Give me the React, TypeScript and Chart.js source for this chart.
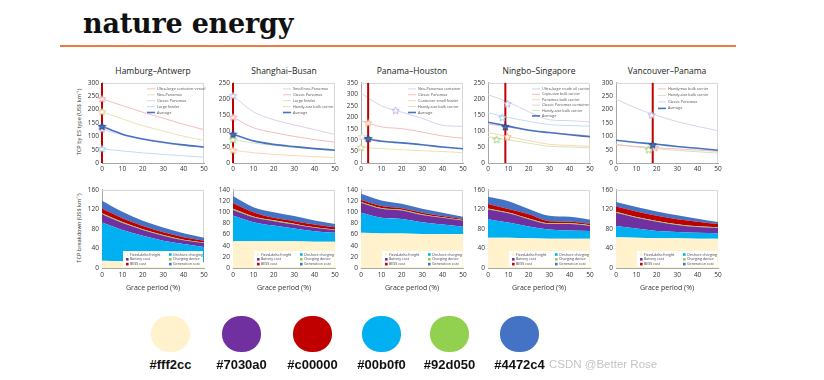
import React, { useEffect, useRef } from "react";
import { Chart, registerables } from "chart.js";

Chart.register(...registerables);

const FONT = "'Open Sans', 'Noto Sans', sans-serif";

// ---------- shared x values (grace period, %) ----------
const GRACE = [0, 10, 20, 30, 40, 50];

// ---------- colours ----------
const C_PINK = "#f4bcbc";
const C_OLIVE = "#e8e3b2";
const C_LAV = "#d9d1ee";
const C_SKY = "#c2dcf3";
const C_LGREEN = "#d3e6bb";
const C_PEACH = "#f9d7b4";
const C_AVG = "#4472c4";
const C_RED = "#c00000";

const S_PINK = "#e99c9c";
const S_OLIVE = "#cfc784";
const S_LAV = "#b7acdc";
const S_SKY = "#93c1ea";
const S_LGREEN = "#9ccc6c";
const S_PEACH = "#f0b07a";

// ---------- top row: TCP by ES type ----------
const routeTitles = ["Hamburg–Antwerp", "Shanghai–Busan", "Panama–Houston", "Ningbo–Singapore", "Vancouver–Panama"];
const topYMax = [300, 250, 350, 250, 300];
const routeGrace = [0, 0, 3.5, 8.5, 18];

// Hamburg–Antwerp
const hamUltraLarge = [240, 215, 190, 168, 145, 125];
const hamNeoPanamax = [192, 165, 140, 120, 100, 85];
const hamClassicPanamax = [127, 105, 88, 75, 65, 57];
const hamLargeFeeder = [53, 45, 38, 32, 27, 22];
const hamAverage = [137, 108, 90, 78, 68, 60];

// Shanghai–Busan
const shaSmallNeoPanamax = [210, 160, 135, 119, 104, 89];
const shaClassicPanamax = [143, 110, 95, 83, 73, 65];
const shaLargeFeeder = [73, 62, 55, 48, 44, 40];
const shaHandySize = [40, 32, 27, 23, 20, 17];
const shaAverage = [90, 69, 58, 51, 45, 40];

// Panama–Houston
const panNeoPanamax = [305, 250, 222, 195, 165, 160];
const panClassicPanamax = [185, 158, 150, 135, 118, 108];
const panSmallFeeder = [115, 98, 88, 80, 70, 63];
const panHandySize = [68, 63, 58, 54, 50, 45];
const panAverage = [110, 95, 88, 80, 70, 62];

// Ningbo–Singapore
const ninCrudeOil = [157, 142, 130, 120, 117, 115];
const ninCapeSize = [122, 112, 102, 95, 90, 85];
const ninPanamaxBulk = [95, 82, 70, 58, 55, 52];
const ninClassicPanamax = [213, 190, 160, 135, 132, 128];
const ninHandySize = [82, 72, 62, 52, 50, 47];
const ninAverage = [127, 115, 102, 95, 88, 82];

// Vancouver–Panama
const vanHandymax = [68, 62, 57, 53, 48, 44];
const vanHandySize = [70, 60, 53, 47, 42, 37];
const vanClassicPanamax = [239, 205, 178, 155, 137, 121];
const vanAverage = [85, 77, 70, 62, 55, 48];

// star markers: [x, y]
const hamStars = [[0, 240], [0, 192], [0, 127], [0, 53], [0, 137]];
const shaStars = [[0, 210], [0, 143], [0, 73], [0, 40], [0, 90]];
const panStars = [[17, 230], [3.5, 175], [0.5, 115], [0, 68], [3.5, 107]];
const ninStars = [[7, 142], [9.5, 185], [9.5, 82], [4.3, 73], [8.5, 113]];
const vanStars = [[19, 58], [16, 50], [17.5, 180], [18, 68]];

// ---------- bottom row: TCP breakdown (stack components) ----------
const bottomYMax = [160, 140, 140, 160, 160];
const costLabels = ["Fixed-delta freight", "Onshore charging", "Battery cost", "Charging device", "BESS cost", "Generation cost"];
const costColors = ["#fff2cc", "#00b0f0", "#7030a0", "#92d050", "#c00000", "#4472c4"];

const hamFixed = [15, 14, 13, 13, 12, 12];
const hamOnshore = [78, 64, 53, 43, 37, 31];
const hamBattery = [17, 14, 12, 10, 8, 8];
const hamDevice = [2, 2, 1.5, 1.5, 1, 1];
const hamBess = [10, 8, 6.5, 5.5, 5, 4];
const hamGeneration = [16, 13, 11, 10, 8, 6];

const shaFixed = [48, 48, 48, 48, 47, 47];
const shaOnshore = [46, 34, 28, 23, 19, 16];
const shaBattery = [10, 9, 8, 7, 6, 5];
const shaDevice = [2, 1.5, 1.5, 1.5, 1, 1];
const shaBess = [10, 7.5, 4.5, 4.5, 5, 4];
const shaGeneration = [13, 9, 10, 9, 7, 6];

const panFixed = [63, 62, 62, 61, 61, 61];
const panOnshore = [36, 28, 26, 21, 17, 13];
const panBattery = [18, 16, 15, 13, 12, 11];
const panDevice = [1.5, 1.5, 1.5, 1.5, 1, 1];
const panBess = [3.5, 3.5, 2.5, 2.5, 2, 2];
const panGeneration = [11, 10, 8, 7, 6, 4];

const ninFixed = [62, 62, 61, 60, 60, 60];
const ninOnshore = [38, 31, 24, 19, 17, 16];
const ninBattery = [20, 19, 15, 11, 13, 10];
const ninDevice = [2, 1.5, 1.5, 1.5, 1.5, 1.5];
const ninBess = [9, 7.5, 8.5, 4.5, 3.5, 3.5];
const ninGeneration = [15, 16, 11, 11, 10, 8];

const vanFixed = [63, 62, 61, 61, 60, 60];
const vanOnshore = [23, 19, 15, 13, 12, 11];
const vanBattery = [27, 22, 19, 14, 12, 11];
const vanDevice = [2, 1.5, 1.5, 1.5, 1.5, 1.5];
const vanBess = [11, 11.5, 10.5, 10.5, 9.5, 6.5];
const vanGeneration = [9, 9, 9, 8, 6, 4];

// ---------- swatches ----------
const swatchColors = ["#fff2cc", "#7030a0", "#c00000", "#00b0f0", "#92d050", "#4472c4"];

// ---------- specs ----------
type Series = { label: string; color: string; stroke: string; values: number[] };
type TopSpec = {
  title: string; yMax: number; grace: number; series: Series[]; average: number[];
  stars: number[][]; starColors: string[][]; legendOffset: number; legendGap: number;
};

const topSpecs: TopSpec[] = [
  {
    title: routeTitles[0], yMax: topYMax[0], grace: routeGrace[0], average: hamAverage,
    series: [
      { label: "Ultra-large container vessel", color: C_PINK, stroke: S_PINK, values: hamUltraLarge },
      { label: "Neo-Panamax", color: C_OLIVE, stroke: S_OLIVE, values: hamNeoPanamax },
      { label: "Classic Panamax", color: C_LAV, stroke: S_LAV, values: hamClassicPanamax },
      { label: "Large feeder", color: C_SKY, stroke: S_SKY, values: hamLargeFeeder },
    ],
    stars: hamStars,
    starColors: [["#fff", S_PINK], ["#fff", S_OLIVE], ["#fff", S_LAV], ["#fff", S_SKY], [C_AVG, "#22407a"]],
    legendOffset: 45, legendGap: 5.9,
  },
  {
    title: routeTitles[1], yMax: topYMax[1], grace: routeGrace[1], average: shaAverage,
    series: [
      { label: "Small neo-Panamax", color: C_LAV, stroke: S_LAV, values: shaSmallNeoPanamax },
      { label: "Classic Panamax", color: C_PINK, stroke: S_PINK, values: shaClassicPanamax },
      { label: "Large feeder", color: C_LGREEN, stroke: S_LGREEN, values: shaLargeFeeder },
      { label: "Handy-size bulk carrier", color: C_PEACH, stroke: S_PEACH, values: shaHandySize },
    ],
    stars: shaStars,
    starColors: [["#fff", S_LAV], ["#fff", S_PINK], ["#fff", S_LGREEN], ["#fff", S_PEACH], [C_AVG, "#22407a"]],
    legendOffset: 50, legendGap: 5.9,
  },
  {
    title: routeTitles[2], yMax: topYMax[2], grace: routeGrace[2], average: panAverage,
    series: [
      { label: "Neo-Panamax container", color: C_LAV, stroke: S_LAV, values: panNeoPanamax },
      { label: "Classic Panamax", color: C_PINK, stroke: S_PINK, values: panClassicPanamax },
      { label: "Container small feeder", color: C_PEACH, stroke: S_PEACH, values: panSmallFeeder },
      { label: "Handy-size bulk carrier", color: C_OLIVE, stroke: S_OLIVE, values: panHandySize },
    ],
    stars: panStars,
    starColors: [["#fff", S_LAV], ["#fff", S_PEACH], ["#fff", "#d8d4c4"], ["#fff", S_OLIVE], [C_AVG, "#22407a"]],
    legendOffset: 47, legendGap: 5.9,
  },
  {
    title: routeTitles[3], yMax: topYMax[3], grace: routeGrace[3], average: ninAverage,
    series: [
      { label: "Ultra-large crude oil carrier", color: C_SKY, stroke: S_SKY, values: ninCrudeOil },
      { label: "Cape-size bulk carrier", color: C_PINK, stroke: S_PINK, values: ninCapeSize },
      { label: "Panamax bulk carrier", color: C_PEACH, stroke: S_PEACH, values: ninPanamaxBulk },
      { label: "Classic Panamax container", color: C_LAV, stroke: S_LAV, values: ninClassicPanamax },
      { label: "Handy-size bulk carrier", color: C_LGREEN, stroke: S_LGREEN, values: ninHandySize },
    ],
    stars: ninStars,
    starColors: [["#fff", S_SKY], ["#fff", S_LAV], ["#fff", S_PEACH], ["#fff", S_LGREEN], [C_AVG, "#22407a"]],
    legendOffset: 44, legendGap: 5.4,
  },
  {
    title: routeTitles[4], yMax: topYMax[4], grace: routeGrace[4], average: vanAverage,
    series: [
      { label: "Handymax bulk carrier", color: C_PINK, stroke: S_PINK, values: vanHandymax },
      { label: "Handy-size bulk carrier", color: C_LGREEN, stroke: S_LGREEN, values: vanHandySize },
      { label: "Classic Panamax", color: C_LAV, stroke: S_LAV, values: vanClassicPanamax },
    ],
    stars: vanStars,
    starColors: [["#fff", S_PINK], ["#fff", S_LGREEN], ["#fff", S_LAV], [C_AVG, "#22407a"]],
    legendOffset: 42, legendGap: 6.5,
  },
];

const bottomSpecs: number[][][] = [
  [hamFixed, hamOnshore, hamBattery, hamDevice, hamBess, hamGeneration],
  [shaFixed, shaOnshore, shaBattery, shaDevice, shaBess, shaGeneration],
  [panFixed, panOnshore, panBattery, panDevice, panBess, panGeneration],
  [ninFixed, ninOnshore, ninBattery, ninDevice, ninBess, ninGeneration],
  [vanFixed, vanOnshore, vanBattery, vanDevice, vanBess, vanGeneration],
];

// ---------- layout ----------
const PLOT_LEFT = [102, 233, 361, 488, 616];
const PLOT_W = 102;
const Y_AXIS_W = 22;
const PAD_R = 8;

function toXY(values: number[]) {
  return GRACE.map((x, i) => ({ x, y: values[i] }));
}

function makeStar(fill: string, stroke: string, size: number) {
  const c = document.createElement("canvas");
  c.width = size;
  c.height = size;
  const g = c.getContext("2d")!;
  const cx = size / 2, cy = size / 2 + 0.3, R = size / 2 - 0.6, r = R * 0.45;
  g.beginPath();
  for (let i = 0; i < 10; i++) {
    const rad = i % 2 === 0 ? R : r;
    const a = -Math.PI / 2 + (i * Math.PI) / 5;
    const px = cx + rad * Math.cos(a), py = cy + rad * Math.sin(a);
    if (i === 0) g.moveTo(px, py);
    else g.lineTo(px, py);
  }
  g.closePath();
  g.fillStyle = fill;
  g.fill();
  g.lineWidth = 0.9;
  g.strokeStyle = stroke;
  g.stroke();
  return c;
}

const frameBox = {
  id: "frameBox",
  beforeDatasetsDraw(chart: any) {
    const { ctx, chartArea: a } = chart;
    ctx.save();
    ctx.strokeStyle = "#d6d6d6";
    ctx.lineWidth = 1;
    ctx.beginPath();
    ctx.moveTo(a.left, a.top + 0.5);
    ctx.lineTo(a.right - 0.5, a.top + 0.5);
    ctx.lineTo(a.right - 0.5, a.bottom);
    ctx.stroke();
    ctx.restore();
  },
};

function tickFont(size: number) {
  return { size, family: FONT };
}

function TopChart({ spec, plotLeft }: { spec: TopSpec; plotLeft: number }) {
  const ref = useRef<HTMLCanvasElement>(null);
  useEffect(() => {
    const items = [
      ...spec.series.map((s) => ({ label: s.label, color: s.color, width: 1 })),
      { label: "Average", color: C_AVG, width: 1.6 },
    ];
    const legendPlugin = {
      id: "lineLegend",
      afterDatasetsDraw(chart: any) {
        const { ctx, chartArea: a } = chart;
        const x0 = a.left + spec.legendOffset;
        ctx.save();
        items.forEach((it, i) => {
          const y = a.top + 6 + i * spec.legendGap;
          ctx.strokeStyle = it.color;
          ctx.lineWidth = it.width;
          ctx.beginPath();
          ctx.moveTo(x0, y);
          ctx.lineTo(x0 + 8, y);
          ctx.stroke();
          ctx.fillStyle = "#555";
          ctx.font = `3.8px ${FONT}`;
          ctx.textBaseline = "middle";
          ctx.fillText(it.label, x0 + 10, y);
        });
        ctx.restore();
      },
    };
    const chart = new Chart(ref.current!, {
      type: "line",
      data: {
        datasets: [
          {
            label: "stars",
            data: spec.stars.map((s) => ({ x: s[0], y: s[1] })),
            showLine: false,
            pointStyle: spec.starColors.map((c) => makeStar(c[0], c[1], 9)) as any,
            pointRadius: 4.5,
            borderWidth: 0,
            clip: false as any,
          },
          {
            label: "grace",
            data: [{ x: spec.grace, y: 0 }, { x: spec.grace, y: spec.yMax }],
            borderColor: C_RED,
            borderWidth: 2,
            pointRadius: 0,
            clip: false as any,
          },
          {
            label: "Average",
            data: toXY(spec.average),
            borderColor: C_AVG,
            borderWidth: 1.6,
            pointRadius: 0,
            cubicInterpolationMode: "monotone",
          },
          ...spec.series.map((s) => ({
            label: s.label,
            data: toXY(s.values),
            borderColor: s.color,
            borderWidth: 1,
            pointRadius: 0,
            cubicInterpolationMode: "monotone" as const,
          })),
        ] as any,
      },
      options: {
        responsive: false,
        animation: false,
        events: [],
        layout: { padding: { top: 5, right: PAD_R, left: 0, bottom: 0 } },
        plugins: { legend: { display: false }, tooltip: { enabled: false } },
        scales: {
          x: {
            type: "linear",
            min: 0,
            max: 50,
            ticks: { stepSize: 10, font: tickFont(6.5), color: "#333", padding: 2, maxRotation: 0 },
            grid: { display: false, drawTicks: false },
            border: { color: "#a8a8a8" },
            afterFit: (s: any) => { s.height = 12; },
          },
          y: {
            min: 0,
            max: spec.yMax,
            ticks: { stepSize: 50, font: tickFont(6.5), color: "#333", padding: 3 },
            grid: { display: false, drawTicks: false },
            border: { color: "#a8a8a8" },
            afterFit: (s: any) => { s.width = Y_AXIS_W; },
          },
        },
      },
      plugins: [frameBox, legendPlugin],
    });
    return () => chart.destroy();
  }, []);
  const w = Y_AXIS_W + PLOT_W + PAD_R;
  const h = 5 + 82 + 12;
  return (
    <canvas
      ref={ref}
      width={w}
      height={h}
      style={{ position: "absolute", left: plotLeft - Y_AXIS_W, top: 76, width: w, height: h }}
    />
  );
}

function BottomChart({ parts, yMax, plotLeft }: { parts: number[][]; yMax: number; plotLeft: number }) {
  const ref = useRef<HTMLCanvasElement>(null);
  useEffect(() => {
    // legend order (column-major, 2 columns x 3 rows)
    const legendOrder = [0, 2, 4, 1, 3, 5];
    const legendPlugin = {
      id: "boxLegend",
      afterDatasetsDraw(chart: any) {
        const { ctx, chartArea: a } = chart;
        const bw = 80, bh = 16;
        const bx = a.right - bw - 1, by = a.bottom - bh - 1;
        ctx.save();
        ctx.fillStyle = "#ffffff";
        ctx.fillRect(bx, by, bw, bh);
        ctx.font = `3.6px ${FONT}`;
        ctx.textBaseline = "middle";
        legendOrder.forEach((k, i) => {
          const col = Math.floor(i / 3), row = i % 3;
          const x = bx + 3 + col * 43;
          const y = by + 3.5 + row * 4.8;
          ctx.fillStyle = costColors[k];
          ctx.fillRect(x, y - 1.3, 2.6, 2.6);
          ctx.fillStyle = "#444";
          ctx.fillText(costLabels[k], x + 4, y);
        });
        ctx.restore();
      },
    };
    const chart = new Chart(ref.current!, {
      type: "line",
      data: {
        datasets: parts.map((p, i) => ({
          label: costLabels[i],
          data: toXY(p),
          backgroundColor: costColors[i],
          borderColor: costColors[i],
          borderWidth: 0,
          pointRadius: 0,
          fill: i === 0 ? "origin" : "-1",
          cubicInterpolationMode: "monotone" as const,
        })) as any,
      },
      options: {
        responsive: false,
        animation: false,
        events: [],
        layout: { padding: { top: 4, right: PAD_R, left: 0, bottom: 0 } },
        plugins: { legend: { display: false }, tooltip: { enabled: false } },
        scales: {
          x: {
            type: "linear",
            min: 0,
            max: 50,
            ticks: { stepSize: 10, font: tickFont(6.5), color: "#333", padding: 3, maxRotation: 0 },
            grid: { display: false, drawTicks: false },
            border: { color: "#a8a8a8" },
            title: { display: true, text: "Grace period (%)", font: tickFont(7), color: "#333", padding: { top: 0, bottom: 1 } },
            afterFit: (s: any) => { s.height = 25; },
          },
          y: {
            min: 0,
            max: yMax,
            stacked: true,
            ticks: { stepSize: 20, font: tickFont(6.5), color: "#333", padding: 3 },
            grid: { display: false, drawTicks: false },
            border: { color: "#a8a8a8" },
            afterFit: (s: any) => { s.width = Y_AXIS_W; },
          },
        },
      },
      plugins: [frameBox, legendPlugin],
    });
    return () => chart.destroy();
  }, []);
  const w = Y_AXIS_W + PLOT_W + PAD_R;
  const h = 4 + 81 + 25;
  return (
    <canvas
      ref={ref}
      width={w}
      height={h}
      style={{ position: "absolute", left: plotLeft - Y_AXIS_W, top: 183, width: w, height: h }}
    />
  );
}

const SWATCH_LEFT = [151, 222, 293, 362, 430, 500];

export default function App() {
  return (
    <div style={{ position: "fixed", left: 0, top: 0, width: 824, height: 380, background: "#fff", overflow: "hidden" }}>
      <div
        style={{
          position: "absolute", left: 83, top: 9, fontFamily: "'DejaVu Serif', serif", fontWeight: 700,
          fontSize: 27, lineHeight: "30px", color: "#111", whiteSpace: "nowrap", letterSpacing: "-0.2px",
        }}
      >
        nature energy
      </div>
      <div style={{ position: "absolute", left: 60, top: 45, width: 676, height: 2, background: "#eb7b3e" }} />

      {routeTitles.map((t, i) => (
        <div
          key={t}
          style={{
            position: "absolute", left: PLOT_LEFT[i] + PLOT_W / 2, top: 70, transform: "translate(-50%, -50%)",
            fontFamily: FONT, fontSize: 8.5, color: "#222", whiteSpace: "nowrap",
          }}
        >
          {t}
        </div>
      ))}

      <div
        style={{
          position: "absolute", left: 79, top: 122, transform: "translate(-50%, -50%) rotate(-90deg)",
          fontFamily: FONT, fontSize: 5.6, color: "#333", whiteSpace: "nowrap",
        }}
      >
        TCP by ES type (US$ km⁻¹)
      </div>
      <div
        style={{
          position: "absolute", left: 79, top: 228, transform: "translate(-50%, -50%) rotate(-90deg)",
          fontFamily: FONT, fontSize: 5.6, color: "#333", whiteSpace: "nowrap",
        }}
      >
        TCP breakdown (US$ km⁻¹)
      </div>

      {topSpecs.map((s, i) => (
        <TopChart key={s.title} spec={s} plotLeft={PLOT_LEFT[i]} />
      ))}
      {bottomSpecs.map((p, i) => (
        <BottomChart key={i} parts={p} yMax={bottomYMax[i]} plotLeft={PLOT_LEFT[i]} />
      ))}

      {swatchColors.map((c, i) => (
        <React.Fragment key={c}>
          <div
            style={{
              position: "absolute", left: SWATCH_LEFT[i], top: 316, width: 39, height: 36,
              borderRadius: "48%", background: c,
            }}
          />
          <div
            style={{
              position: "absolute", left: SWATCH_LEFT[i] + 19.5, top: 364, transform: "translate(-50%, -50%)",
              fontFamily: "'Liberation Sans', Arial, sans-serif", fontWeight: 700, fontSize: 13,
              color: "#111", whiteSpace: "nowrap",
            }}
          >
            {c}
          </div>
        </React.Fragment>
      ))}
      <div
        style={{
          position: "absolute", left: 549, top: 364, transform: "translateY(-50%)",
          fontFamily: "'Liberation Sans', Arial, sans-serif", fontSize: 11.5, color: "#c4c4c4", whiteSpace: "nowrap",
        }}
      >
        CSDN @Better Rose
      </div>
    </div>
  );
}
